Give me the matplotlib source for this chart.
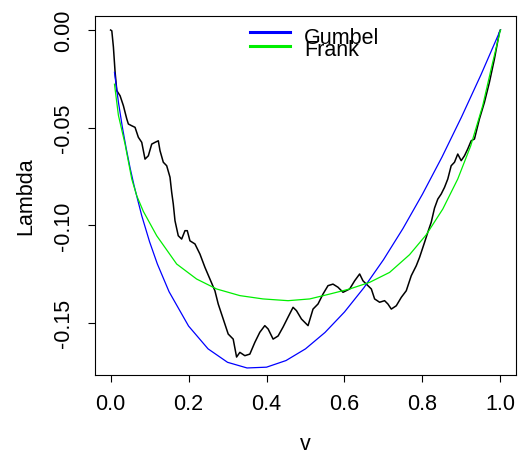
import matplotlib.pyplot as plt

plt.rcParams['font.family'] = ['Liberation Sans', 'DejaVu Sans']

v_emp = [0.0, 0.0031, 0.0072, 0.0115, 0.0159, 0.0243, 0.0328, 0.0415, 0.0456, 0.0543,
         0.0627, 0.0712, 0.0799, 0.0883, 0.0968, 0.1055, 0.1140, 0.1224, 0.1268, 0.1352,
         0.1439, 0.1524, 0.1567, 0.1608, 0.1652, 0.1736, 0.1823, 0.1908, 0.1967, 0.2036,
         0.2164, 0.2292, 0.2420, 0.2548, 0.2676, 0.2761, 0.2889, 0.3017, 0.3145, 0.3232,
         0.3316, 0.3444, 0.3572, 0.3700, 0.3828, 0.3956, 0.4041, 0.4169, 0.4297, 0.4425,
         0.4553, 0.4681, 0.4768, 0.4896, 0.5065, 0.5193, 0.5321, 0.5449, 0.5577, 0.5705,
         0.5833, 0.5962, 0.6133, 0.6261, 0.6389, 0.6474, 0.6561, 0.6689, 0.6773, 0.6901,
         0.7029, 0.7114, 0.7201, 0.7329, 0.7457, 0.7585, 0.7713, 0.7841, 0.7926, 0.8054,
         0.8138, 0.8225, 0.8310, 0.8394, 0.8481, 0.8566, 0.8650, 0.8737, 0.8822, 0.8906,
         0.8994, 0.9078, 0.9162, 0.9250, 0.9334, 0.9462, 0.9590, 0.9718, 0.9846, 0.9974,
         1.0]
lam_emp = [0.0, -0.0004, -0.0087, -0.0215, -0.0311, -0.0337, -0.0388, -0.0456, -0.0482, -0.0491,
           -0.0499, -0.0550, -0.0576, -0.0662, -0.0645, -0.0585, -0.0576, -0.0568, -0.0619, -0.0678,
           -0.0696, -0.0755, -0.0832, -0.0892, -0.0978, -0.1055, -0.1072, -0.1029, -0.1029, -0.1081,
           -0.1097, -0.1149, -0.1217, -0.1277, -0.1337, -0.1405, -0.1482, -0.1559, -0.1585, -0.1677,
           -0.1653, -0.1670, -0.1662, -0.1602, -0.1550, -0.1516, -0.1533, -0.1585, -0.1569, -0.1523,
           -0.1472, -0.1422, -0.1439, -0.1482, -0.1516, -0.1431, -0.1405, -0.1354, -0.1311, -0.1303,
           -0.1319, -0.1345, -0.1328, -0.1286, -0.1251, -0.1286, -0.1303, -0.1328, -0.1379, -0.1396,
           -0.1388, -0.1405, -0.1431, -0.1414, -0.1371, -0.1337, -0.1260, -0.1209, -0.1166, -0.1089,
           -0.1037, -0.0986, -0.0913, -0.0867, -0.0841, -0.0807, -0.0764, -0.0696, -0.0678, -0.0636,
           -0.0670, -0.0645, -0.0610, -0.0568, -0.0559, -0.0456, -0.0371, -0.0268, -0.0149, -0.0012,
           0.0]

# Gumbel curve (blue)
v_gum = [0.01, 0.02, 0.03, 0.04, 0.05, 0.06, 0.08, 0.10, 0.12, 0.15, 0.20, 0.25, 0.30, 0.35,
         0.40, 0.45, 0.50, 0.55, 0.60, 0.65, 0.70, 0.75, 0.80, 0.85, 0.90, 0.95, 1.0]
lam_gum = [-0.0217, -0.0369, -0.0496, -0.0607, -0.0707, -0.0796, -0.0953, -0.1086, -0.1200,
           -0.1342, -0.1518, -0.1635, -0.1704, -0.1733, -0.1729, -0.1695, -0.1635, -0.1551,
           -0.1446, -0.1321, -0.1178, -0.1018, -0.0842, -0.0652, -0.0447, -0.0230, 0.0]

# Frank curve (green)
v_frk = [0.01, 0.02, 0.0371, 0.0543, 0.0671, 0.084, 0.1183, 0.1695, 0.2207, 0.272, 0.3316,
         0.391, 0.4553, 0.5109, 0.5621, 0.6133, 0.6645, 0.7157, 0.767, 0.8097, 0.8522,
         0.8906, 0.924, 0.9546, 0.9762, 1.0]
lam_frk = [-0.0278, -0.0437, -0.0585, -0.0764, -0.0850, -0.0930, -0.1055, -0.1200, -0.1277,
           -0.1328, -0.1362, -0.1379, -0.1388, -0.1379, -0.1354, -0.1328, -0.1294, -0.1243,
           -0.1152, -0.1050, -0.0918, -0.0764, -0.0593, -0.0388, -0.0200, 0.0]

fig = plt.figure(figsize=(5.2, 4.64), dpi=100)
ax = fig.add_axes([0.1827, 0.1897, 0.8096, 0.7737])

ax.plot(v_emp, lam_emp, color='black', lw=1.1)
ax.plot(v_gum, lam_gum, color='blue', lw=0.9)
ax.plot(v_frk, lam_frk, color='#00ee00', lw=0.9)

ax.set_xlim(-0.04, 1.04)
ax.set_ylim(-0.1769, 0.0072)
ax.set_xticks([0.0, 0.2, 0.4, 0.6, 0.8, 1.0])
ax.set_xticklabels(['0.0', '0.2', '0.4', '0.6', '0.8', '1.0'])
ax.set_yticks([0.0, -0.05, -0.10, -0.15])
ax.set_yticklabels(['0.00', '-0.05', '-0.10', '-0.15'], rotation=90, va='center')
ax.tick_params(direction='out', length=5, width=0.8, labelsize=15.5)
ax.tick_params(axis='x', pad=8)
ax.tick_params(axis='y', pad=10)
for s in ax.spines.values():
    s.set_linewidth(0.8)

ax.set_xlabel('v', fontsize=15.5, labelpad=14)
ax.set_ylabel('Lambda', fontsize=15.5, labelpad=12)

# legend, R style (no box, overlapping rows)
ax.plot([0.368, 0.463], [0.955, 0.955], transform=ax.transAxes, color='blue', lw=2.2)
ax.plot([0.368, 0.463], [0.916, 0.916], transform=ax.transAxes, color='#00ee00', lw=2.2)
ax.text(0.496, 0.925, 'Gumbel', transform=ax.transAxes, fontsize=15.5, va='baseline')
ax.text(0.496, 0.892, 'Frank', transform=ax.transAxes, fontsize=15.5, va='baseline')

fig.savefig('out.png', dpi=100)
